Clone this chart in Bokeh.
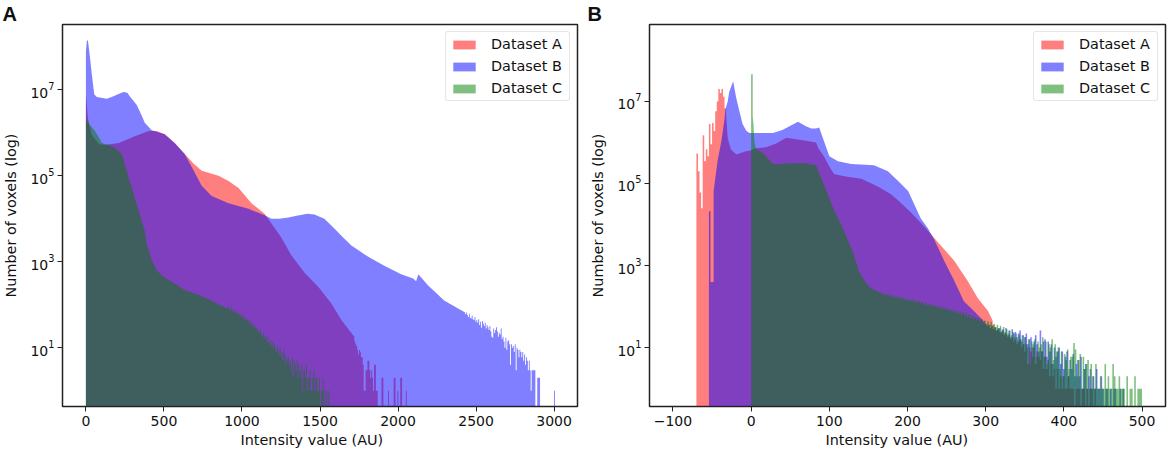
"""Voxel intensity histograms for three datasets, raw (A) and normalised (B)."""

from bokeh.embed import file_html
from bokeh.layouts import row
from bokeh.models import FixedTicker, LogTickFormatter, Range1d, Title
from bokeh.plotting import figure
from bokeh.resources import INLINE


# ── Panel A data ─────────────────────────────────────────────────
a1_x = [0, 13, 21, 38, 83, 121, 211, 313, 403, 454, 505, 569, 633, 691, 742, 850, 914, 978,
        1061, 1145, 1189, 1253, 1317, 1400, 1490, 1573, 1637, 1720]
a1_y = [7.9e6, 2.2e6, 1.6e6, 8.9e5, 5.5e5, 5.2e5, 5.8e5, 8.3e5, 1.1e6, 1.1e6, 9.3e5, 5.8e5, 3.2e5, 1.9e5,
        1.3e5, 1e5, 7.6e4, 5.2e4, 2.3e4, 1.3e4, 7800, 3600, 1400, 560, 260, 107, 44, 18]
a1_tail_start = 1720
a1_tail = [14, 12, 11, 9, 7, 9, 8, 6, 6, 4, 1, 1,
           3, 3, 5, 5, 3, 2, 3, 2, 1, 4, 4, 1,
           1, 0, 0, 0, 0, 2, 2, 0, 0, 0, 0, 0, 1, 0, 0, 0, 0, 0, 2, 2, 0, 0, 1, 0, 0, 2, 2, 0, 0, 0, 0, 1]

b1_x = [0, 6, 13, 24, 38, 53, 70, 134, 177, 205, 241, 265, 281, 326, 358, 377, 422, 505, 569, 633, 691, 742,
        806, 914, 1042, 1145, 1189, 1240, 1298, 1350, 1420, 1464, 1528, 1592, 1650, 1701, 1809, 1912, 2020,
        2097, 2116, 2130, 2193, 2231, 2295, 2430]
b1_y = [7.8e7, 1.4e8, 1.4e8, 6.6e7, 2.3e7, 7.9e6, 6.8e6, 6.2e6, 7.1e6, 7.9e6, 8.9e6, 8.5e6, 7.1e6, 4.4e6, 2.5e6,
        1.7e6, 1.15e6, 9.3e5, 5.8e5, 3.2e5, 1.3e5, 5.9e4, 3.4e4, 2.3e4, 1.7e4, 1.2e4, 1e4, 1e4, 1.07e4, 1.17e4,
        1.3e4, 1.26e4, 1e4, 5900, 3600, 2400, 1300, 810, 510, 410, 350, 510, 280, 210, 125, 66]
b1_tail_start = 2430
b1_tail = [60, 66, 58, 52, 62, 50, 48, 56, 46, 44, 52, 40,
           44, 38, 46, 34, 40, 29, 42, 36, 32, 38, 28, 34,
           30, 26, 32, 24, 18, 17, 28, 22, 26, 30, 24, 18,
           22, 20, 28, 16, 18, 14, 10, 17, 9, 14, 15, 12,
           4, 12, 10, 11, 8, 12, 3, 10, 9, 6, 9, 8,
           6, 8, 5, 7, 4, 6, 5, 3, 5, 3, 1, 3,
           3, 3, 3, 0, 0, 2, 2, 2,
           0, 0, 0, 0, 0, 0, 0, 0, 0, 0, 0, 0, 0, 0, 0, 1]

c1_x = [0, 21, 58, 83, 102, 147, 185, 230, 275, 313, 358, 377, 390, 422, 454, 499, 563, 633, 722, 825, 900]
c1_y = [2.1e6, 1.6e6, 1.1e6, 7.9e5, 5.8e5, 5.2e5, 4.5e5, 3.2e5, 8.9e4, 3.1e4, 9100, 5200, 2600, 1100,
        630, 440, 320, 220, 170, 115, 84]
c1_tail_start = 900
c1_tail = [84, 80, 92, 78, 75, 88, 72, 70, 80, 66, 64,
           70, 60, 58, 64, 55, 52, 60, 48, 50, 44, 46,
           42, 46, 38, 36, 40, 33, 35, 28, 32, 30, 26,
           28, 24, 22, 26, 20, 18, 22, 16, 19, 17, 14,
           18, 13, 12, 15, 11, 14, 10, 12, 9, 8, 11,
           9, 7, 10, 6, 8, 5, 9, 7, 4, 6, 5,
           6, 4, 5, 3, 6, 2, 5, 4, 3, 5, 2,
           4, 3, 2, 4, 1, 3, 3, 2, 4, 1, 2,
           2, 3, 1, 1, 2, 3, 1, 2, 2, 1, 1,
           2, 0, 1, 1, 2, 0, 1, 0, 1, 0, 1]

# ── Panel B data ─────────────────────────────────────────────────
a2_head_start = -70
a2_head = [5.4e5, 2e5, 6e4, 2.5e4, 1.5e6, 3.5e5, 6.8e5, 4.6e5, 2.8e6, 9e5, 3e6, 1.9e6, 5.8e6, 1e7, 2e7,
           1.6e7, 2e7, 1.3e7, 6.8e6]
a2_x = [-32, -30, -26, -19, -8, -2, 6, 19, 32, 45, 58, 70, 83, 86, 93, 100, 106, 119, 141, 162, 179, 192,
        205, 217, 230, 240, 260, 277, 290, 303, 309]
a2_y = [4.8e6, 1.3e6, 6.8e5, 5.1e5, 6e5, 6.3e5, 7.2e5, 7.6e5, 9.5e5, 1.3e6, 1.2e6, 1.1e6, 1e6, 7.2e5, 4.6e5,
        2.6e5, 1.7e5, 1.5e5, 1.3e5, 8.5e4, 5.5e4, 3.3e4, 1.9e4, 1.1e4, 5800, 3500, 1300, 420, 160, 78, 45]
a2_tail_start = 309
a2_tail = [36, 30, 26, 28, 24, 22, 26, 20, 22, 18,
           20, 16, 18, 14, 16, 12, 14, 16, 10, 12,
           8, 12, 4, 10, 8, 6, 10, 4, 8, 6,
           5, 8, 3, 6, 3, 5, 2, 4, 2, 3,
           1, 3, 1, 2, 1, 2, 1, 1, 2, 1,
           1, 1, 0, 1, 1, 1, 0, 1, 1, 0,
           1, 0, 1, 1, 0, 1]

b2_head_start = -54
b2_head = [2.1e4, 400, 400]
b2_x = [-48, -43, -38, -34, -33, -30, -28, -23, -19, -15, -11, -6, -2, 2, 15, 28, 40, 49, 60, 70, 77, 83,
        87, 93, 100, 111, 128, 157, 175, 189, 201, 208, 217, 226, 234, 247, 260, 272, 285, 297]
b2_y = [6.5e4, 3.5e5, 1.1e6, 3.8e6, 6.3e6, 1e7, 1.7e7, 3.1e7, 1.2e7, 5.8e6, 2.8e6, 1.9e6, 1.7e6, 1.7e6, 1.7e6,
        1.7e6, 2e6, 2.5e6, 3.2e6, 2.5e6, 2.2e6, 2.2e6, 2.3e6, 1.1e6, 4.6e5, 3.5e5, 3e5, 2.8e5, 2e5, 1.1e5,
        6.5e4, 3.3e4, 1.4e4, 8100, 4400, 1300, 420, 135, 78, 45]
b2_tail_start = 297
b2_tail = [44, 38, 34, 36, 30, 34, 28, 32, 26, 30,
           30, 24, 28, 22, 30, 20, 26, 18, 28, 22,
           24, 18, 22, 26, 14, 20, 18, 22, 12, 16,
           18, 10, 14, 20, 12, 8, 26, 8, 14, 16,
           6, 14, 8, 12, 4, 10, 6, 8, 10, 4,
           8, 3, 6, 8, 2, 5, 3, 7, 2, 4,
           5, 2, 6, 1, 3, 4, 1, 2, 3, 1,
           2, 1, 3, 1, 1, 2, 1, 0, 1, 1,
           0, 1, 0, 1, 1, 0, 0, 1, 0, 1]

c2_head_start = 0
c2_head = [4.6e7]
c2_x = [2, 3, 4, 6, 8, 17, 28, 38, 49, 70, 83, 90, 98, 106, 119, 130, 138, 147, 153, 170]
c2_y = [4.3e6, 2.8e6, 1.1e6, 6.8e5, 6.8e5, 5.1e5, 3e5, 3e5, 3.1e5, 3.1e5, 2.8e5, 1.3e5, 5.5e4, 2.3e4, 6900,
        2200, 720, 370, 280, 200]
c2_tail_start = 170
c2_tail = [200, 190, 205, 180, 190, 170, 185, 165, 175, 160,
           170, 150, 165, 145, 155, 140, 155, 135, 150, 130,
           140, 125, 135, 120, 130, 112, 125, 108, 118, 105,
           112, 100, 108, 95, 105, 90, 100, 88, 95, 84,
           90, 80, 86, 76, 84, 72, 80, 68, 76, 65,
           72, 62, 68, 56, 64, 52, 58, 50, 56, 48,
           52, 44, 50, 40, 46, 38, 44, 36, 42, 34,
           38, 32, 36, 28, 34, 26, 32, 24, 28, 22,
           26, 20, 24, 18, 22, 14, 20, 16, 20, 12,
           18, 10, 16, 4, 14, 12, 16, 6, 14, 10,
           12, 18, 6, 14, 4, 12, 10, 16, 5, 12,
           8, 10, 3, 8, 2, 7, 5, 9, 3, 6,
           6, 13, 9, 2, 5, 7, 1, 6, 3, 4,
           5, 1, 4, 2, 1, 4, 1, 1, 2, 1,
           1, 4, 1, 2, 1, 1, 4, 2, 1, 1,
           2, 1, 1, 1, 0, 2, 0, 1, 1, 0,
           2, 0, 1, 1, 1]

y_ticks = [10, 1e3, 1e5, 1e7]
series_names = ['Dataset A', 'Dataset B', 'Dataset C']
series_colors = ['#ff0000', '#0000ff', '#008000']

FLOOR = 0.01   # sits under the visible range, log axis can't take 0
FONT = 'DejaVu Sans'


def _bars(start, width, counts):
    """Expand equal-width bins into the vertices of an outline."""
    xs, ys = [], []
    for i, c in enumerate(counts):
        left = start + i * width
        top = c if c > 0 else FLOOR
        xs += [left, left, left + width, left + width]
        ys += [FLOOR, top, top, FLOOR]
    return xs, ys


def _outline(body_x, body_y, tail_start, tail, width, head_start=None, head=()):
    hx, hy = _bars(head_start, width, head)
    tx, ty = _bars(tail_start, width, tail)
    return hx + [body_x[0]] + body_x + tx, hy + [FLOOR] + body_y + ty


def _panel(letter, w, left, right, x_range, y_range, x_ticks, outlines, letter_offset, xlabel_offset):
    fig = figure(
        width=w, height=455, output_backend='svg', toolbar_location=None,
        x_range=Range1d(*x_range), y_range=Range1d(*y_range), y_axis_type='log',
        y_axis_label='Number of voxels (log)',
        min_border_left=left, min_border_right=right, min_border_top=23, min_border_bottom=49,
    )
    for (xs, ys), name, color in zip(outlines, series_names, series_colors):
        fig.varea(xs, [FLOOR] * len(xs), ys, fill_color=color, fill_alpha=0.5, legend_label=name)

    fig.xaxis.ticker = FixedTicker(ticks=x_ticks)
    fig.yaxis.ticker = FixedTicker(ticks=y_ticks)
    fig.yaxis.formatter = LogTickFormatter()
    fig.grid.visible = False
    fig.background_fill_color = 'white'
    fig.border_fill_color = 'white'
    fig.outline_line_color = '#222222'
    fig.outline_line_width = 1.5
    for axis in (fig.xaxis, fig.yaxis):
        axis.axis_line_color = '#222222'
        axis.major_tick_line_color = '#222222'
        axis.major_tick_out = 5
        axis.major_tick_in = 0
        axis.minor_tick_line_color = None
        axis.major_label_text_font = FONT
        axis.major_label_text_font_size = '14px'
        axis.major_label_text_color = '#111111'
        axis.axis_label_text_font = FONT
        axis.axis_label_text_font_size = '14.4px'
        axis.axis_label_text_font_style = 'normal'
        axis.axis_label_text_color = '#111111'
    fig.xaxis.major_label_standoff = 4
    fig.yaxis.major_label_standoff = 3
    fig.yaxis.axis_label_standoff = 8

    leg = fig.legend[0]
    leg.location = 'top_right'
    leg.margin = 7
    leg.padding = 4
    leg.spacing = 6
    leg.glyph_width = 28
    leg.glyph_height = 11
    leg.label_standoff = 13
    leg.label_width = 74
    leg.label_text_font = FONT
    leg.label_text_font_size = '14.4px'
    leg.label_text_color = '#111111'
    leg.border_line_color = '#cccccc'
    leg.background_fill_alpha = 0.8
    leg.border_radius = 3

    # titles rather than an axis label: the x title sits left of the frame centre
    fig.add_layout(Title(text='Intensity value (AU)', align='left', offset=xlabel_offset, standoff=2,
                         text_font=FONT, text_font_size='14.4px', text_font_style='normal',
                         text_color='#111111'), 'below')
    fig.add_layout(Title(text=letter, align='left', offset=letter_offset, standoff=0,
                         text_font='Liberation Sans', text_font_size='20px', text_font_style='bold',
                         text_color='#111111'), 'above')
    return fig


W1 = 6   # bin width panel A
W2 = 2   # bin width panel B

pa = _panel(
    'A', 585, 60, 8, (-150, 3150), (0.43, 3.3e8), [0, 500, 1000, 1500, 2000, 2500, 3000],
    [_outline(a1_x, a1_y, a1_tail_start, a1_tail, W1),
     _outline(b1_x, b1_y, b1_tail_start, b1_tail, W1),
     _outline(c1_x, c1_y, c1_tail_start, c1_tail, W1)],
    letter_offset=-60, xlabel_offset=178,
)
pb = _panel(
    'B', 585, 64, 5, (-130, 530), (0.367, 7.5e8), [-100, 0, 100, 200, 300, 400, 500],
    [_outline(a2_x, a2_y, a2_tail_start, a2_tail, W2, a2_head_start, a2_head),
     _outline(b2_x, b2_y, b2_tail_start, b2_tail, W2, b2_head_start, b2_head),
     _outline(c2_x, c2_y, c2_tail_start, c2_tail, W2, c2_head_start, c2_head)],
    letter_offset=-62, xlabel_offset=176,
)

p = row(pa, pb)

open("out.html", "w").write(file_html(p, INLINE))
